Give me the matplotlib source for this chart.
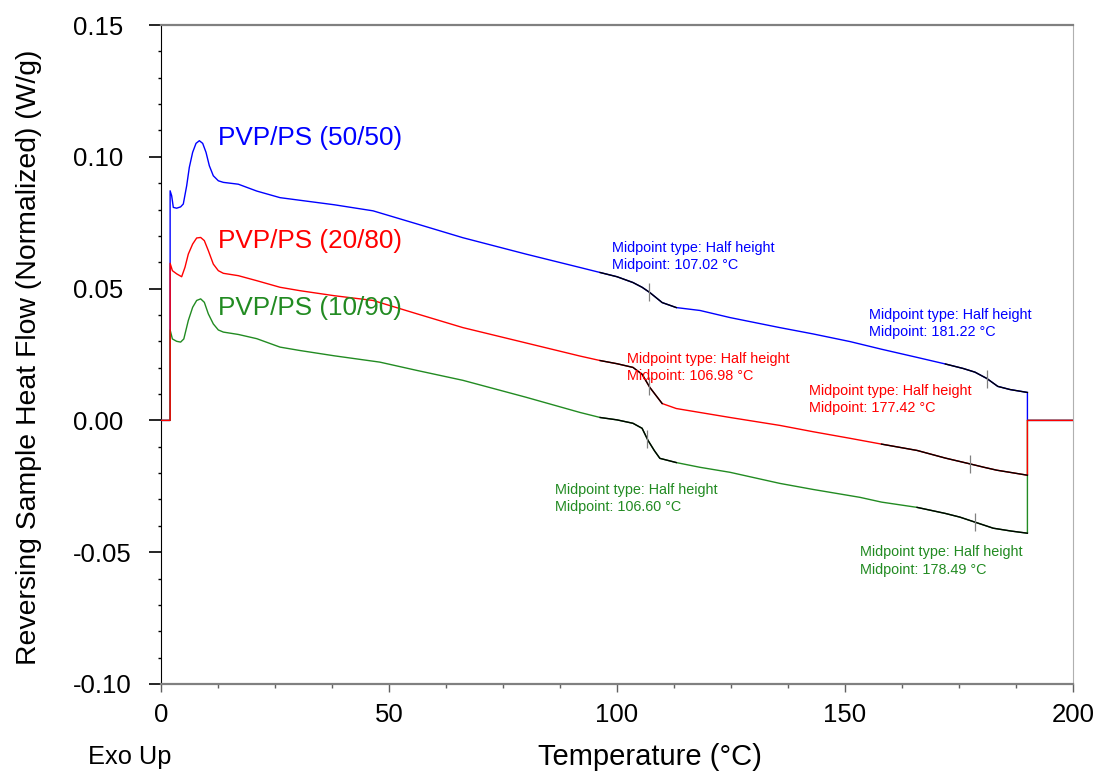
import matplotlib
matplotlib.use("Agg")
import matplotlib.pyplot as plt
import numpy as np
from matplotlib.ticker import MultipleLocator, FormatStrFormatter

plt.rcParams['font.family'] = ['Liberation Sans', 'DejaVu Sans']
plt.rcParams['axes.unicode_minus'] = False

# PVP/PS (50/50)
temp_50 = [0, 2.0, 2.0, 2.34, 2.7, 3.43, 4.3, 4.89, 5.63, 6.21, 6.94, 7.68, 8.41, 9.14, 9.87,
           10.6, 11.47, 12.57, 13.67, 16.96, 21.0, 26.1, 30.5, 38.0, 46.5, 56.0, 66.2, 80.0,
           91.9, 96.3, 100.0, 103.5, 105.5, 107.2, 109.9, 113.0, 118.2, 124.8, 135.7, 143.0,
           151.1, 158.0, 165.8, 172.0, 175.9, 178.5, 181.1, 183.5, 186.2, 190.0, 190.0, 200.0]
flow_50 = [0, 0, 0.0871, 0.0852, 0.0808, 0.0805, 0.081, 0.0821, 0.089, 0.096, 0.1017, 0.1051,
           0.1061, 0.1051, 0.1017, 0.0966, 0.0928, 0.0909, 0.0903, 0.0896, 0.087, 0.0845,
           0.0835, 0.0818, 0.0795, 0.0746, 0.0693, 0.0631, 0.058, 0.0561, 0.0545, 0.0523,
           0.0505, 0.0485, 0.0447, 0.0428, 0.0417, 0.039, 0.0352, 0.0328, 0.0299, 0.027,
           0.0239, 0.0214, 0.0197, 0.0183, 0.0159, 0.0129, 0.0117, 0.0106, 0, 0]

# PVP/PS (20/80)
temp_20 = [0, 2.0, 2.0, 2.5, 3.43, 4.53, 5.26, 5.99, 6.94, 7.82, 8.7, 9.5, 10.38, 11.47, 12.57,
           13.67, 16.96, 21.0, 26.1, 30.5, 38.0, 46.5, 56.0, 66.2, 80.0, 91.9, 96.3, 100.0,
           103.5, 105.5, 107.2, 109.9, 113.0, 118.2, 124.8, 135.7, 143.0, 151.1, 158.0, 165.8,
           172.0, 177.4, 180.5, 183.3, 186.5, 190.0, 190.0, 200.0]
flow_20 = [0, 0, 0.0596, 0.0568, 0.0556, 0.0545, 0.0581, 0.0631, 0.0669, 0.0692, 0.0694,
           0.0682, 0.0644, 0.0593, 0.0568, 0.0558, 0.0549, 0.053, 0.0505, 0.0492, 0.0473,
           0.0455, 0.0405, 0.0352, 0.0294, 0.0244, 0.0227, 0.0215, 0.0201, 0.0175, 0.0125,
           0.0064, 0.0045, 0.003, 0.0011, -0.0019, -0.0043, -0.0068, -0.009, -0.0114,
           -0.0143, -0.0165, -0.0178, -0.0189, -0.0198, -0.0208, 0, 0]

# PVP/PS (10/90)
temp_10 = [0, 2.0, 2.0, 2.5, 3.43, 4.3, 5.0, 5.99, 6.94, 7.82, 8.7, 9.5, 10.38, 11.47, 12.57,
           13.67, 16.96, 21.0, 26.1, 30.5, 38.0, 48.0, 56.0, 66.2, 80.0, 91.9, 96.3, 100.0,
           103.5, 105.5, 106.8, 108.2, 109.4, 113.0, 118.2, 124.8, 135.7, 143.0, 153.3, 158.0,
           165.8, 172.0, 175.2, 178.5, 182.5, 186.5, 190.0, 190.0, 200.0]
flow_10 = [0, 0, 0.0343, 0.0309, 0.030, 0.0297, 0.0309, 0.0379, 0.0429, 0.0455, 0.0461,
           0.0448, 0.0404, 0.0366, 0.0343, 0.0335, 0.0326, 0.031, 0.0278, 0.0265, 0.0245,
           0.0221, 0.019, 0.0152, 0.0088, 0.003, 0.0011, 0.0002, -0.0011, -0.003, -0.0076,
           -0.0115, -0.0144, -0.016, -0.0178, -0.0197, -0.0239, -0.0262, -0.0292, -0.031,
           -0.033, -0.0353, -0.0367, -0.0386, -0.0409, -0.042, -0.0428, 0, 0]

names = ["PVP/PS (50/50)", "PVP/PS (20/80)", "PVP/PS (10/90)"]
midpoints = [[107.02, 181.22], [106.98, 177.42], [106.60, 178.49]]

blue, red, green = "#0000ff", "#ff0000", "#228b22"

fig = plt.figure(figsize=(11.02, 7.74), dpi=100)
ax = fig.add_axes([0.1461, 0.1163, 0.8276, 0.8514])

series = [(temp_50, flow_50, blue, [(96, 115), (172, 190)]),
          (temp_10, flow_10, green, [(96, 118), (165, 190)]),
          (temp_20, flow_20, red, [(96, 112), (158, 190)])]

for t, f, c, ranges in series:
    t = np.array(t)
    f = np.array(f)
    ax.plot(t, f, color=c, lw=1.0, zorder=3)
    tc, fc = t[2:-2], f[2:-2]
    for lo, hi in ranges:
        m = (tc >= lo) & (tc <= hi)
        ax.plot(tc[m], fc[m], color="black", lw=1.0, zorder=4)

# midpoint markers
for (t, f), mids in zip([(temp_50, flow_50), (temp_20, flow_20), (temp_10, flow_10)], midpoints):
    for m in mids:
        y = np.interp(m, t[2:-2], f[2:-2])
        ax.plot([m], [y], marker="|", ms=13, mew=0.9, color="#808080", zorder=5)

# curve labels
ax.text(12.5, 0.1072, names[0], color=blue, fontsize=18.8, va="center")
ax.text(12.5, 0.0682, names[1], color=red, fontsize=18.8, va="center")
ax.text(12.5, 0.0428, names[2], color=green, fontsize=18.8, va="center")

# midpoint annotations
notes = [(98.9, 0.0623, blue, "107.02"), (155.3, 0.0367, blue, "181.22"),
         (102.2, 0.0201, red, "106.98"), (142.1, 0.0080, red, "177.42"),
         (86.4, -0.0297, green, "106.60"), (153.3, -0.0534, green, "178.49")]
for x, y, c, v in notes:
    ax.text(x, y, "Midpoint type: Half height\nMidpoint: " + v + " °C", color=c,
            fontsize=10.4, va="center", ha="left", linespacing=1.3, zorder=6)

ax.set_xlim(0, 200)
ax.set_ylim(-0.10, 0.15)
ax.xaxis.set_major_locator(MultipleLocator(50))
ax.xaxis.set_minor_locator(MultipleLocator(12.5))
ax.yaxis.set_major_locator(MultipleLocator(0.05))
ax.yaxis.set_minor_locator(MultipleLocator(0.01))
ax.yaxis.set_major_formatter(FormatStrFormatter("%.2f"))
ax.tick_params(axis="y", which="major", length=8.5, width=1.2, labelsize=18.5, pad=54.9,
               direction="out")
ax.tick_params(axis="y", which="minor", length=2.5, width=1.0, direction="out")
ax.tick_params(axis="x", which="major", length=6, width=1.0, labelsize=18.5, pad=8,
               direction="out", color="#606060")
ax.tick_params(axis="x", which="minor", length=3, width=1.0, direction="out", color="#606060")
for lbl in ax.get_yticklabels():
    lbl.set_horizontalalignment("left")

ax.spines["left"].set_color("black")
ax.spines["top"].set_color("#808080")
ax.spines["top"].set_linewidth(1.6)
ax.spines["bottom"].set_color("#808080")
ax.spines["bottom"].set_linewidth(1.6)
ax.spines["right"].set_color("#b0b0b0")

ax.set_ylabel("Reversing Sample Heat Flow (Normalized) (W/g)", fontsize=20.4)
ax.yaxis.set_label_coords(-0.1305, 0.496)
ax.set_xlabel("Temperature (°C)", fontsize=21)
ax.xaxis.set_label_coords(0.536, -0.0895)

fig.text(130 / 1102, 1 - 757 / 774, "Exo Up", fontsize=18.3, ha="center", va="center")

fig.savefig("out.png", dpi=100)
